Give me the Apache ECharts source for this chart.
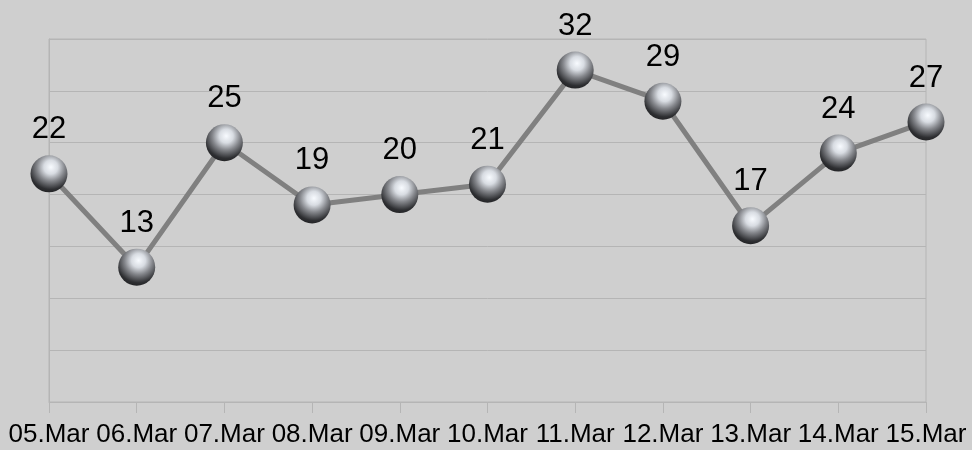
<!DOCTYPE html>
<html>
<head>
<meta charset="utf-8">
<script src="https://cdn.jsdelivr.net/npm/echarts@6/dist/echarts.min.js"></script>
<style>
html,body{margin:0;padding:0;background:#cfcfcf;}
#c{width:972px;height:450px;}
</style>
</head>
<body>
<div id="c"></div>
<script>
const categories = ['05.Mar','06.Mar','07.Mar','08.Mar','09.Mar','10.Mar','11.Mar','12.Mar','13.Mar','14.Mar','15.Mar'];
const values = [22, 13, 25, 19, 20, 21, 32, 29, 17, 24, 27];
const yMin = 0, yMax = 35, yStep = 5;

const chart = echarts.init(document.getElementById('c'), null, {renderer:'canvas'});
const gridColor = '#b5b5b5';
chart.setOption({
  backgroundColor: '#cfcfcf',
  animation: false,
  textStyle: {fontFamily: '"Liberation Sans", Arial, sans-serif'},
  grid: {left: 49, right: 46, top: 39, bottom: 48, containLabel: false,
         show: true, borderColor: gridColor, borderWidth: 1},
  xAxis: {
    type: 'category', data: categories, boundaryGap: false,
    axisLine: {lineStyle: {color: gridColor, width: 1}},
    axisTick: {show: true, length: 11, interval: 0, lineStyle: {color: gridColor}},
    axisLabel: {color: '#000', fontSize: 26, margin: 20, interval: 0, hideOverlap: false,
                fontFamily: '"Liberation Sans", Arial, sans-serif'},
    splitLine: {show: false}
  },
  yAxis: {
    type: 'value', min: yMin, max: yMax, interval: yStep,
    axisLabel: {show: false}, axisTick: {show: false},
    axisLine: {show: true, lineStyle: {color: gridColor}},
    splitLine: {lineStyle: {color: gridColor, width: 1}}
  },
  series: [{
    type: 'line', data: values,
    lineStyle: {color: '#808080', width: 5},
    symbol: 'circle', symbolSize: 37,
    itemStyle: {
      color: {type: 'radial', x: 0.55, y: 0.32, r: 0.75,
        colorStops: [
          {offset: 0, color: '#f8fbff'},
          {offset: 0.25, color: '#d8dce2'},
          {offset: 0.5, color: '#85878c'},
          {offset: 0.8, color: '#2e2f32'},
          {offset: 1, color: '#1c1c1e'}
        ]},
      borderWidth: 0
    },
    label: {show: true, position: 'top', distance: 10, color: '#000', fontSize: 31,
            fontFamily: '"Liberation Sans", Arial, sans-serif'},
    z: 3
  }]
});
</script>
</body>
</html>
